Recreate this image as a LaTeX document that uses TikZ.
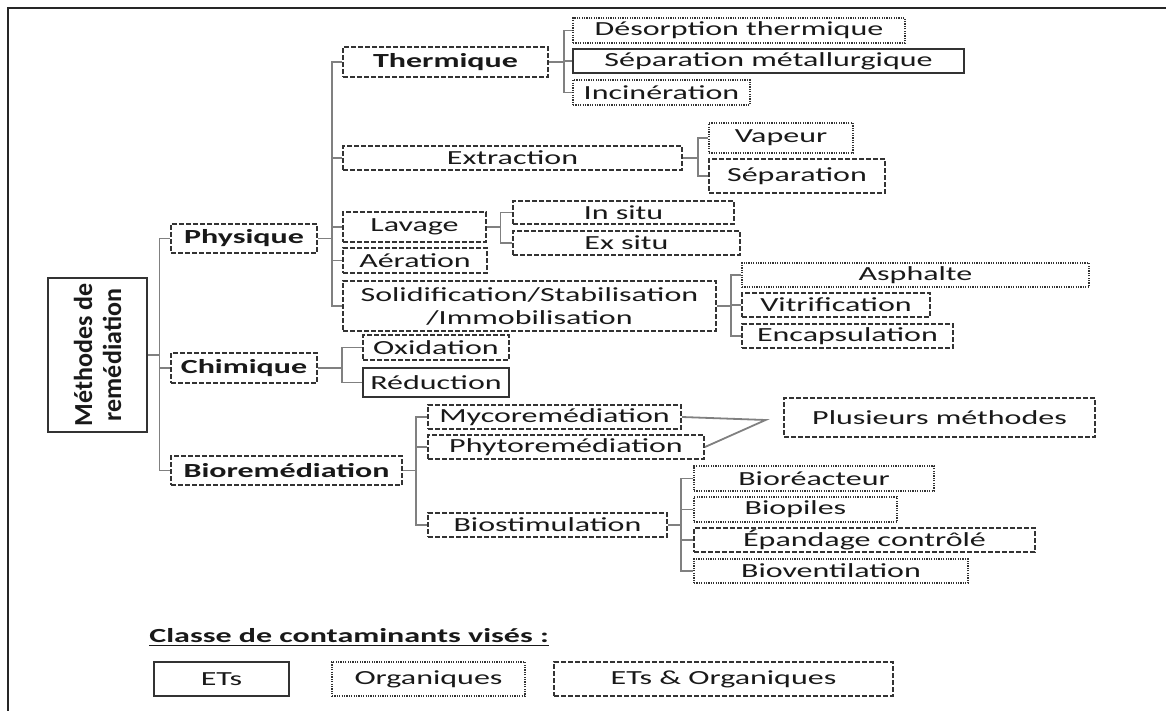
\documentclass[tikz,border=0pt]{standalone}
\usepackage{fontspec}
\setmainfont{Carlito}[FakeStretch=1.6]
\newfontfamily\rootfont{Carlito}
\usepackage{tikz}

\tikzset{
  box/.style={draw=black!80, line width=1pt, inner sep=0pt, text=black!90,
    font=\fontsize{10}{11.5}\selectfont},
  bold/.style={font=\fontsize{10}{11.5}\selectfont\bfseries},
  wh/.style 2 args={minimum width=#1*0.5pt, minimum height=#2*0.5pt},
  ets/.style={box},
  org/.style={box, line width=0.8pt, dash pattern=on 0.6pt off 0.6pt},
  mix/.style={box, dash pattern=on 2.5pt off 1pt},
  link/.style={draw=black!50, line width=0.9pt},
}

\begin{document}
\begin{tikzpicture}[x=0.5pt, y=-0.5pt]
        \useasboundingbox (0,0) rectangle (1166,711);
        \draw[line width=1pt, black!85] (1166,8) -| (8,711);

        \node[ets, wh={154}{99}, rotate=90, align=center,
              font=\rootfont\bfseries\fontsize{13}{14.5}\selectfont] (root) at (97.5,355) {Méthodes de\\remédiation};

        % first level
        \node[mix, bold, wh={146}{29}] (phys) at (244,238.5) {Physique};
        \node[mix, bold, wh={146}{30}] (chim) at (244,368) {Chimique};
        \node[mix, bold, wh={231}{29}] (bio) at (286.5,470.5) {Bioremédiation};

        % physique
        \node[mix, bold, wh={205}{30}] (therm) at (445.5,62) {Thermique};
        \node[mix, wh={339}{24}] (extr) at (512.5,158) {Extraction};
        \node[mix, wh={143}{30}] (lav) at (414.5,227) {Lavage};
        \node[mix, wh={144}{25}] (aer) at (415,260.5) {Aération};
        \node[mix, wh={373}{50}, align=center] (solid) at (529.5,306) {Solidification/Stabilisation\\/Immobilisation};

        \node[org, wh={332}{25}] (deso) at (739,30.5) {Désorption thermique};
        \node[ets, wh={391}{24}] (sepmet) at (768.5,61) {Séparation métallurgique};
        \node[org, wh={177}{25}] (incin) at (661.5,92.5) {Incinération};

        \node[org, wh={144}{30}] (vap) at (781,138) {Vapeur};
        \node[mix, wh={176}{34}] (sep) at (797,176) {Séparation};

        \node[mix, wh={221}{23}] (insitu) at (623.5,212.5) {In situ};
        \node[mix, wh={227}{24}] (exsitu) at (626.5,243) {Ex situ};

        \node[org, wh={347}{24}] (asph) at (915.5,275) {Asphalte};
        \node[mix, wh={188}{24}] (vitr) at (836,305) {Vitrification};
        \node[mix, wh={211}{24}] (encap) at (847.5,336) {Encapsulation};

        % chimique
        \node[mix, wh={146}{25}] (oxi) at (436,347.5) {Oxidation};
        \node[ets, wh={146}{29}] (red) at (436,382.5) {Réduction};

        % bioremediation
        \node[mix, wh={253}{24}] (myco) at (554.5,417) {Mycoremédiation};
        \node[mix, wh={276}{24}] (phyto) at (566,447) {Phytoremédiation};
        \node[mix, wh={239}{24}] (biostim) at (547.5,525) {Biostimulation};
        \node[mix, wh={311}{39}] (plus) at (939.5,417.5) {Plusieurs méthodes};
        \coordinate (mp) at (765.6,420);

        \node[org, wh={240}{25}] (biorea) at (814,478.5) {Bioréacteur};
        \node[org, wh={203}{25}] (biopil) at (795.5,509.5) {Biopiles};
        \node[mix, wh={341}{24}] (epand) at (864.5,540) {Épandage contrôlé};
        \node[org, wh={274}{24}] (biovent) at (831,571) {Bioventilation};

        % connectors
        \foreach \c in {phys,chim,bio}
            \draw[link] (root.south) -- ++(11.5,0) |- (\c.west);
        \foreach \c in {therm,extr,lav,aer,solid}
            \draw[link] (phys.east) -- ++(14,0) |- (\c.west);
        \foreach \c in {deso,sepmet,incin}
            \draw[link] (therm.east) -- ++(15,0) |- (\c.west);
        \foreach \c in {vap,sep}
            \draw[link] (extr.east) -- ++(15,0) |- (\c.west);
        \foreach \c in {insitu,exsitu}
            \draw[link] (lav.east) -- ++(13.5,0) |- (\c.west);
        \foreach \c in {asph,vitr,encap}
            \draw[link] (solid.east) -- ++(14,0) |- (\c.west);
        \foreach \c in {oxi,red}
            \draw[link] (chim.east) -- ++(23.6,0) |- (\c.west);
        \foreach \c in {myco,phyto,biostim}
            \draw[link] (bio.east) -- ++(13,0) |- (\c.west);
        \foreach \c in {biorea,biopil,epand,biovent}
            \draw[link] (biostim.east) -- ++(13,0) |- (\c.west);
        \draw[link] (myco.east) -- (mp) -- (phyto.east);

        % legend
        \node[bold, text=black!90, anchor=west, inner sep=0pt] (legtitle) at (149,638) {\underline{Classe de contaminants visés :}};
        \node[ets, wh={135}{34}] (legets) at (221.5,679) {ETs};
        \node[org, wh={193}{34}] (legorg) at (428.5,679) {Organiques};
        \node[mix, wh={339}{34}] (legmix) at (723.5,679) {ETs \& Organiques};
\end{tikzpicture}
\end{document}
